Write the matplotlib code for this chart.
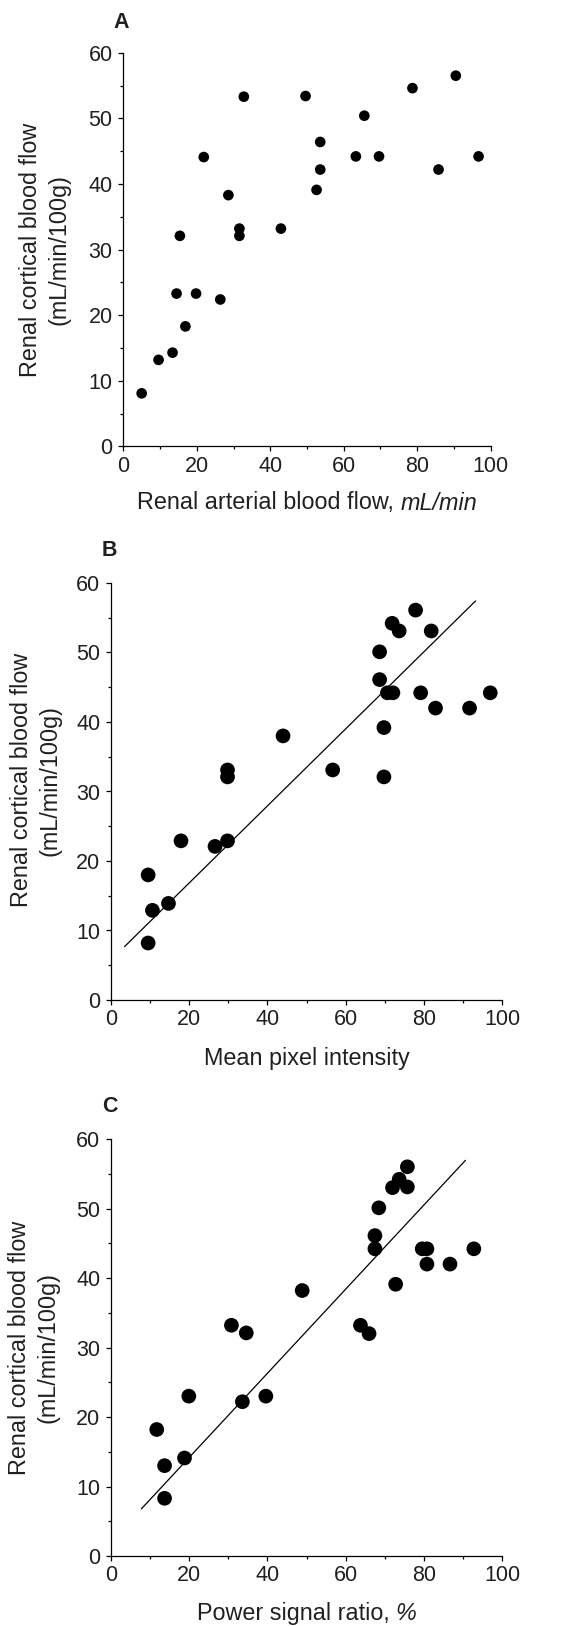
import matplotlib
matplotlib.use("Agg")
import matplotlib.pyplot as plt
from matplotlib.ticker import MultipleLocator
from matplotlib.offsetbox import TextArea, HPacker, AnnotationBbox

plt.rcParams['font.family'] = ['Liberation Sans', 'DejaVu Sans']

TXT = '#231f20'

# ---------------- data ----------------
# Panel A: renal arterial blood flow (mL/min) vs cortical blood flow
a_x = [5.0, 9.6, 13.4, 14.5, 15.4, 16.9, 19.8, 21.9, 26.4, 28.6, 31.6, 31.6, 32.8,
       42.9, 49.6, 52.6, 53.6, 53.6, 63.3, 65.6, 69.6, 78.7, 85.8, 90.5, 96.7]
a_y = [8.1, 13.2, 14.3, 23.3, 32.1, 18.3, 23.3, 44.1, 22.4, 38.3, 33.2, 32.1, 53.3,
       33.2, 53.4, 39.1, 46.4, 42.2, 44.2, 50.4, 44.2, 54.6, 42.2, 56.5, 44.2]

# Panel B: mean pixel intensity vs cortical blood flow
b_x = [9.5, 9.5, 10.6, 14.7, 17.9, 26.6, 29.8, 29.8, 29.8, 44.0, 56.7, 68.7, 68.7,
       69.8, 69.8, 70.7, 72.1, 71.9, 73.7, 77.9, 79.2, 81.9, 83.0, 91.7, 97.0]
b_y = [18.0, 8.2, 12.9, 13.9, 22.9, 22.1, 22.9, 33.1, 32.1, 38.0, 33.1, 50.1, 46.1,
       39.2, 32.1, 44.2, 44.2, 54.2, 53.1, 56.1, 44.2, 53.1, 42.0, 42.0, 44.2]
b_fit_x = [3.5, 93.2]
b_fit_y = [7.7, 57.4]

# Panel C: power signal ratio (%) vs cortical blood flow
c_x = [11.7, 13.7, 13.7, 18.8, 19.9, 30.8, 34.6, 33.6, 39.6, 48.9, 63.8, 66.0, 67.5,
       67.5, 68.5, 72.0, 73.7, 75.8, 75.8, 72.8, 79.6, 80.8, 80.8, 86.7, 92.8]
c_y = [18.2, 13.0, 8.3, 14.1, 23.0, 33.2, 32.1, 22.2, 23.0, 38.2, 33.2, 32.0, 46.1,
       44.2, 50.1, 53.0, 54.2, 56.0, 53.1, 39.1, 44.2, 44.2, 42.0, 42.0, 44.2]
c_fit_x = [7.8, 90.6]
c_fit_y = [6.8, 56.9]

ylabel_text = "Renal cortical blood flow\n(mL/min/100g)"
xlabel_main = ["Renal arterial blood flow, ", "Mean pixel intensity", "Power signal ratio, "]
xlabel_ital = ["mL/min", "", "%"]
letters = ["A", "B", "C"]

# ---------------- layout ----------------
W, H = 561, 1626
fig = plt.figure(figsize=(W / 100, H / 100), dpi=100)


def make_axes(l, r, t, b):
    return fig.add_axes([l / W, 1 - b / H, (r - l) / W, (b - t) / H])


boxes = [(123.3, 490.7, 52.7, 446.5), (111, 502, 583, 1000), (111, 502, 1139, 1556)]
letter_pos = [(121, 22), (109.5, 550), (109.5, 1107)]
ylab_x_px = [45.0, 35.8, 33.8]
ylab_y_px = [249.5, 780, 1347.5]
xlab_y_px = [503, 1058, 1613]
marker_s = [59, 112, 112]
FS = 16.8

datasets = [(a_x, a_y, None, None), (b_x, b_y, b_fit_x, b_fit_y), (c_x, c_y, c_fit_x, c_fit_y)]

for i, (box, (xs, ys, fx, fy)) in enumerate(zip(boxes, datasets)):
    l, r, t, b = box
    ax = make_axes(l, r, t, b)
    ax.scatter(xs, ys, s=marker_s[i], color='black', edgecolors='none', zorder=3, clip_on=False)
    if fx is not None:
        ax.plot(fx, fy, color='black', lw=0.9, zorder=2)
    ax.set_xlim(0, 100)
    ax.set_ylim(0, 60)
    for sp in ['top', 'right']:
        ax.spines[sp].set_visible(False)
    for sp in ['left', 'bottom']:
        ax.spines[sp].set_linewidth(0.9)
        ax.spines[sp].set_color('black')
    ax.xaxis.set_major_locator(MultipleLocator(20))
    ax.xaxis.set_minor_locator(MultipleLocator(10))
    ax.yaxis.set_major_locator(MultipleLocator(10))
    ax.yaxis.set_minor_locator(MultipleLocator(5))
    ax.tick_params(which='major', direction='out', length=3.7, width=0.9,
                   labelsize=15.5, labelcolor=TXT)
    ax.tick_params(which='minor', direction='out', length=2.2, width=0.9)
    ax.tick_params(axis='x', which='major', pad=3)
    ax.tick_params(axis='y', which='major', pad=4)

    parts = [TextArea(xlabel_main[i], textprops=dict(fontsize=FS, color=TXT))]
    if xlabel_ital[i]:
        parts.append(TextArea(xlabel_ital[i], textprops=dict(fontsize=FS, color=TXT, style='italic')))
    pack = HPacker(children=parts, align='baseline', pad=0, sep=0)
    ab = AnnotationBbox(pack, (0.5, -(xlab_y_px[i] - b) / (b - t)), xycoords='axes fraction',
                        frameon=False, box_alignment=(0.5, 0.5), annotation_clip=False, pad=0)
    ax.add_artist(ab)

    ax.set_ylabel(ylabel_text, fontsize=FS, color=TXT, va='center', ha='center',
                  linespacing=1.3, multialignment='center')
    ax.yaxis.set_label_coords((ylab_x_px[i] - l) / (r - l), (b - ylab_y_px[i]) / (b - t))
    lx, ly = letter_pos[i]
    fig.text(lx / W, 1 - ly / H, letters[i], fontsize=15.5, fontweight='bold',
             color=TXT, ha='center', va='center')

fig.savefig("out.png", dpi=100)
